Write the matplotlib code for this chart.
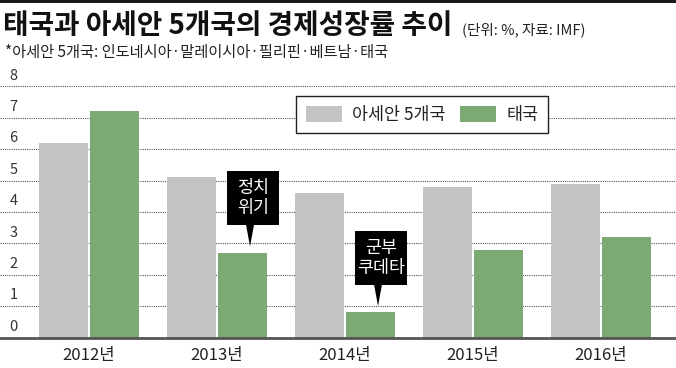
import matplotlib
matplotlib.use("Agg")
import matplotlib.pyplot as plt
from matplotlib.patches import Rectangle, Polygon
import numpy as np

plt.rcParams['font.family'] = ['Noto Sans CJK KR', 'DejaVu Sans']

# data (단위: %, 자료: IMF)
years = ["2012년", "2013년", "2014년", "2015년", "2016년"]
asean5 = [6.2, 5.1, 4.6, 4.8, 4.9]
thailand = [7.2, 2.7, 0.8, 2.8, 3.2]
series_names = ["아세안 5개국", "태국"]
yticks = [0, 1, 2, 3, 4, 5, 6, 7, 8]

# notes on the Thai bars
notes = {1: "정치\n위기", 2: "군부\n쿠데타"}

gray = "#c3c3c3"
green = "#7bab73"

W, H = 676, 368
fig = plt.figure(figsize=(W / 100, H / 100), dpi=100)

# plot area: zero line at 337.5px, 31.4px per unit
zero_px = 337.5
unit_px = 31.4
ymax = 8.6
ax = fig.add_axes([0, (H - zero_px) / H, 1, ymax * unit_px / H])

x = np.arange(len(years))
bw = 0.383
off = 0.203
b1 = ax.bar(x - off, asean5, bw, color=gray, label=series_names[0], zorder=2)
b2 = ax.bar(x + off, thailand, bw, color=green, label=series_names[1], zorder=2)

ax.set_xlim(-89 / 128, (W - 89) / 128)
ax.set_ylim(0, ymax)

ax.set_yticks(yticks)
ax.yaxis.grid(True, linestyle=(0, (1, 1)), color="#555555", linewidth=0.8)
ax.set_axisbelow(True)
ax.tick_params(axis="y", left=False, labelleft=False)

for k in yticks:
    ax.text(-89 / 128 + 13.5 / 128, k + 0.34, str(k), ha="center", va="center",
            fontsize=10.5, color="#333333")

ax.set_xticks(x)
ax.set_xticklabels(years, fontsize=12, color="#222222")
ax.tick_params(axis="x", length=0, pad=7)

for s in ["top", "right", "left"]:
    ax.spines[s].set_visible(False)
ax.spines["bottom"].set_color("#555555")
ax.spines["bottom"].set_linewidth(2)
ax.spines["bottom"].set_zorder(3)

# annotation boxes with pointer
box_w = 52 / 128
box_h = 54 / unit_px
for i, txt in notes.items():
    val = thailand[i]
    bx = x[i] + off + 0.08
    tip_x = x[i] + off + 0.055
    tip_y = val + 0.2
    base_y = val + 0.87
    ax.add_patch(Rectangle((bx - box_w / 2, base_y), box_w, box_h,
                           facecolor="black", edgecolor="none", zorder=4))
    ax.add_patch(Polygon([(tip_x - 4 / 128, base_y + 0.02), (tip_x + 4 / 128, base_y + 0.02),
                          (tip_x, tip_y)], closed=True, facecolor="black",
                         edgecolor="none", zorder=4))
    ax.text(bx, base_y + box_h / 2, txt, ha="center", va="center", color="white",
            fontsize=12.5, linespacing=1.15, zorder=5)

leg = ax.legend(handles=[b1, b2], loc="upper left", ncol=2,
                bbox_to_anchor=(296 / W, 1 - 96 / H), bbox_transform=fig.transFigure,
                borderaxespad=0, frameon=True, fancybox=False, fontsize=12.5,
                handlelength=2.1, handleheight=1.05, handletextpad=0.6,
                columnspacing=0.8, borderpad=0.55)
leg.get_frame().set_edgecolor("#222222")
leg.get_frame().set_linewidth(1.0)
leg.get_frame().set_alpha(1)
for t in leg.get_texts():
    t.set_color("#222222")

# header
fig.patches.append(Rectangle((0, 1 - 3 / H), 1, 3 / H, transform=fig.transFigure,
                             facecolor="#1a1a1a", edgecolor="none"))
fig.text(3 / W, 1 - 26 / H, "태국과 아세안 5개국의 경제성장률 추이", fontsize=20,
         fontweight="bold", color="#111111", ha="left", va="center")
fig.text(462 / W, 1 - 30 / H, "(단위: %, 자료: IMF)", fontsize=10.5,
         color="#222222", ha="left", va="center")
fig.text(5 / W, 1 - 53 / H, "*아세안 5개국: 인도네시아·말레이시아·필리핀·베트남·태국",
         fontsize=11, color="#222222", ha="left", va="center")

fig.savefig("out.png", dpi=100)
